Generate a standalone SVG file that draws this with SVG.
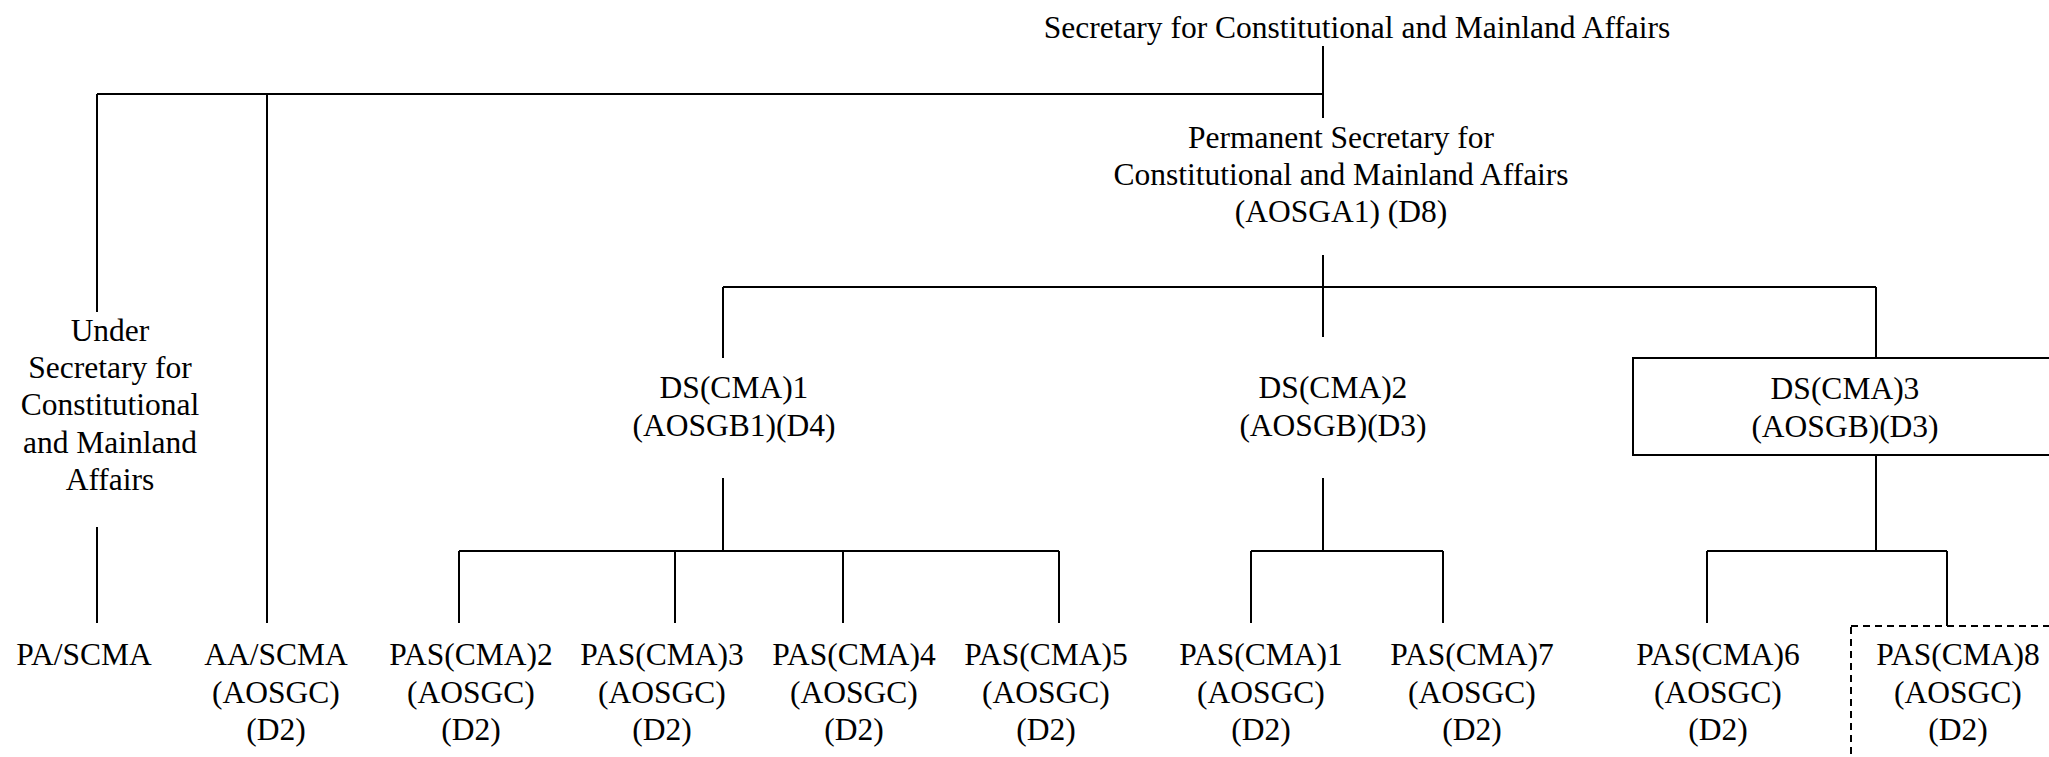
<svg xmlns="http://www.w3.org/2000/svg" width="2049" height="757" viewBox="0 0 2049 757">
<style>
text{font-family:"Liberation Serif","Times New Roman",serif;font-size:31.5px;fill:#000;text-anchor:middle}
.ln{stroke:#000;stroke-width:2;fill:none}
.box{stroke:#000;stroke-width:2;fill:none}
.dash{stroke:#000;stroke-width:2;fill:none;stroke-dasharray:7 5}
</style>
<rect width="2049" height="757" fill="#fff"/>
<g id="connectors">
<path class="ln" d="M1323 46V118M97 94H1323M97 94V312M267 94V623M97 527V623"/>
<path class="ln" d="M1323 255V337M723 287H1876M723 287V358M1876 287V358"/>
<path class="ln" d="M723 478V551M459 551H1059M459 551V623M675 551V623M843 551V623M1059 551V623"/>
<path class="ln" d="M1323 478V551M1251 551H1443M1251 551V623M1443 551V623"/>
<path class="ln" d="M1876 455V551M1707 551H1947M1707 551V623M1947 551V626"/>
</g>
<g id="sec"><text x="1357" y="38">Secretary for Constitutional and Mainland Affairs</text></g>
<g id="ps"><text x="1341" y="148">Permanent Secretary for</text><text x="1341" y="185">Constitutional and Mainland Affairs</text><text x="1341" y="222">(AOSGA1) (D8)</text></g>
<g id="us"><text x="110" y="341">Under</text><text x="110" y="378">Secretary for</text><text x="110" y="415">Constitutional</text><text x="110" y="453">and Mainland</text><text x="110" y="490">Affairs</text></g>
<g id="ds1"><text x="734" y="398">DS(CMA)1</text><text x="734" y="436">(AOSGB1)(D4)</text></g>
<g id="ds2"><text x="1333" y="398">DS(CMA)2</text><text x="1333" y="436">(AOSGB)(D3)</text></g>
<g id="ds3"><rect class="box" x="1633" y="358" width="424" height="97"/><text x="1845" y="399">DS(CMA)3</text><text x="1845" y="437">(AOSGB)(D3)</text></g>
<g id="pa"><text x="84" y="665">PA/SCMA</text></g>
<g id="aa"><text x="276" y="665">AA/SCMA</text><text x="276" y="703">(AOSGC)</text><text x="276" y="740">(D2)</text></g>
<g id="pas2"><text x="471" y="665">PAS(CMA)2</text><text x="471" y="703">(AOSGC)</text><text x="471" y="740">(D2)</text></g>
<g id="pas3"><text x="662" y="665">PAS(CMA)3</text><text x="662" y="703">(AOSGC)</text><text x="662" y="740">(D2)</text></g>
<g id="pas4"><text x="854" y="665">PAS(CMA)4</text><text x="854" y="703">(AOSGC)</text><text x="854" y="740">(D2)</text></g>
<g id="pas5"><text x="1046" y="665">PAS(CMA)5</text><text x="1046" y="703">(AOSGC)</text><text x="1046" y="740">(D2)</text></g>
<g id="pas1"><text x="1261" y="665">PAS(CMA)1</text><text x="1261" y="703">(AOSGC)</text><text x="1261" y="740">(D2)</text></g>
<g id="pas7"><text x="1472" y="665">PAS(CMA)7</text><text x="1472" y="703">(AOSGC)</text><text x="1472" y="740">(D2)</text></g>
<g id="pas6"><text x="1718" y="665">PAS(CMA)6</text><text x="1718" y="703">(AOSGC)</text><text x="1718" y="740">(D2)</text></g>
<g id="pas8"><rect class="dash" x="1851" y="626" width="214" height="150"/><text x="1958" y="665">PAS(CMA)8</text><text x="1958" y="703">(AOSGC)</text><text x="1958" y="740">(D2)</text></g>
</svg>
